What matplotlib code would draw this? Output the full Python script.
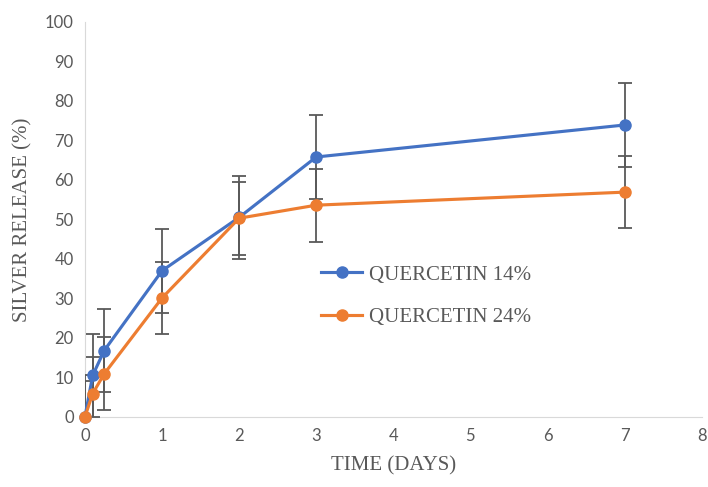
import matplotlib
matplotlib.use("Agg")
import matplotlib.pyplot as plt

# data
days = [0, 0.1, 0.25, 1, 2, 3, 7]
q14 = [0, 10.5, 16.8, 37.0, 50.5, 65.8, 73.9]
q14_err = [10.6, 10.6, 10.6, 10.6, 10.6, 10.6, 10.6]
q24 = [0, 5.9, 10.9, 30.1, 50.3, 53.6, 56.9]
q24_err = [9.2, 9.2, 9.2, 9.2, 9.2, 9.2, 9.2]
labels = ['QUERCETIN 14%', 'QUERCETIN 24%']

fig = plt.figure(figsize=(7.08, 4.87), dpi=100)
ax = fig.add_axes([0.12, 0.144, 0.871, 0.811])

for y, e, c, lab in [(q14, q14_err, '#4472c4', labels[0]), (q24, q24_err, '#ed7d31', labels[1])]:
    cont = ax.errorbar(days, y, yerr=e, color=c, marker='o', markersize=8,
                       linewidth=2.25, ecolor='#595959', elinewidth=1.3, capsize=5,
                       capthick=1.3, label=lab, zorder=3)
    cont.lines[0].set_clip_on(False)

ax.set_xlim(0, 8)
ax.set_ylim(0, 100)
ax.set_xticks(range(0, 9))
ax.set_yticks(range(0, 101, 10))
ax.spines['top'].set_visible(False)
ax.spines['right'].set_visible(False)
ax.spines['left'].set_color('#d9d9d9')
ax.spines['bottom'].set_color('#d9d9d9')
ax.tick_params(length=0, labelcolor='#595959', labelsize=12, pad=8)
for t in ax.get_xticklabels() + ax.get_yticklabels():
    t.set_fontfamily('Lato')

ax.set_xlabel('TIME (DAYS)', fontfamily='Liberation Serif', fontsize=15, color='#595959', labelpad=9)
ax.set_ylabel('SILVER RELEASE (%)', fontfamily='Liberation Serif', fontsize=15, color='#595959', labelpad=9)

h, l = ax.get_legend_handles_labels()
h = [x[0] for x in h]
leg = ax.legend(h, l, loc='center left', bbox_to_anchor=(0.352, 0.306), frameon=False,
                prop={'family': 'Liberation Serif', 'size': 15}, handlelength=2.0,
                labelspacing=1.1, handletextpad=0.3)
for t in leg.get_texts():
    t.set_color('#595959')

fig.savefig('out.png', dpi=100)
